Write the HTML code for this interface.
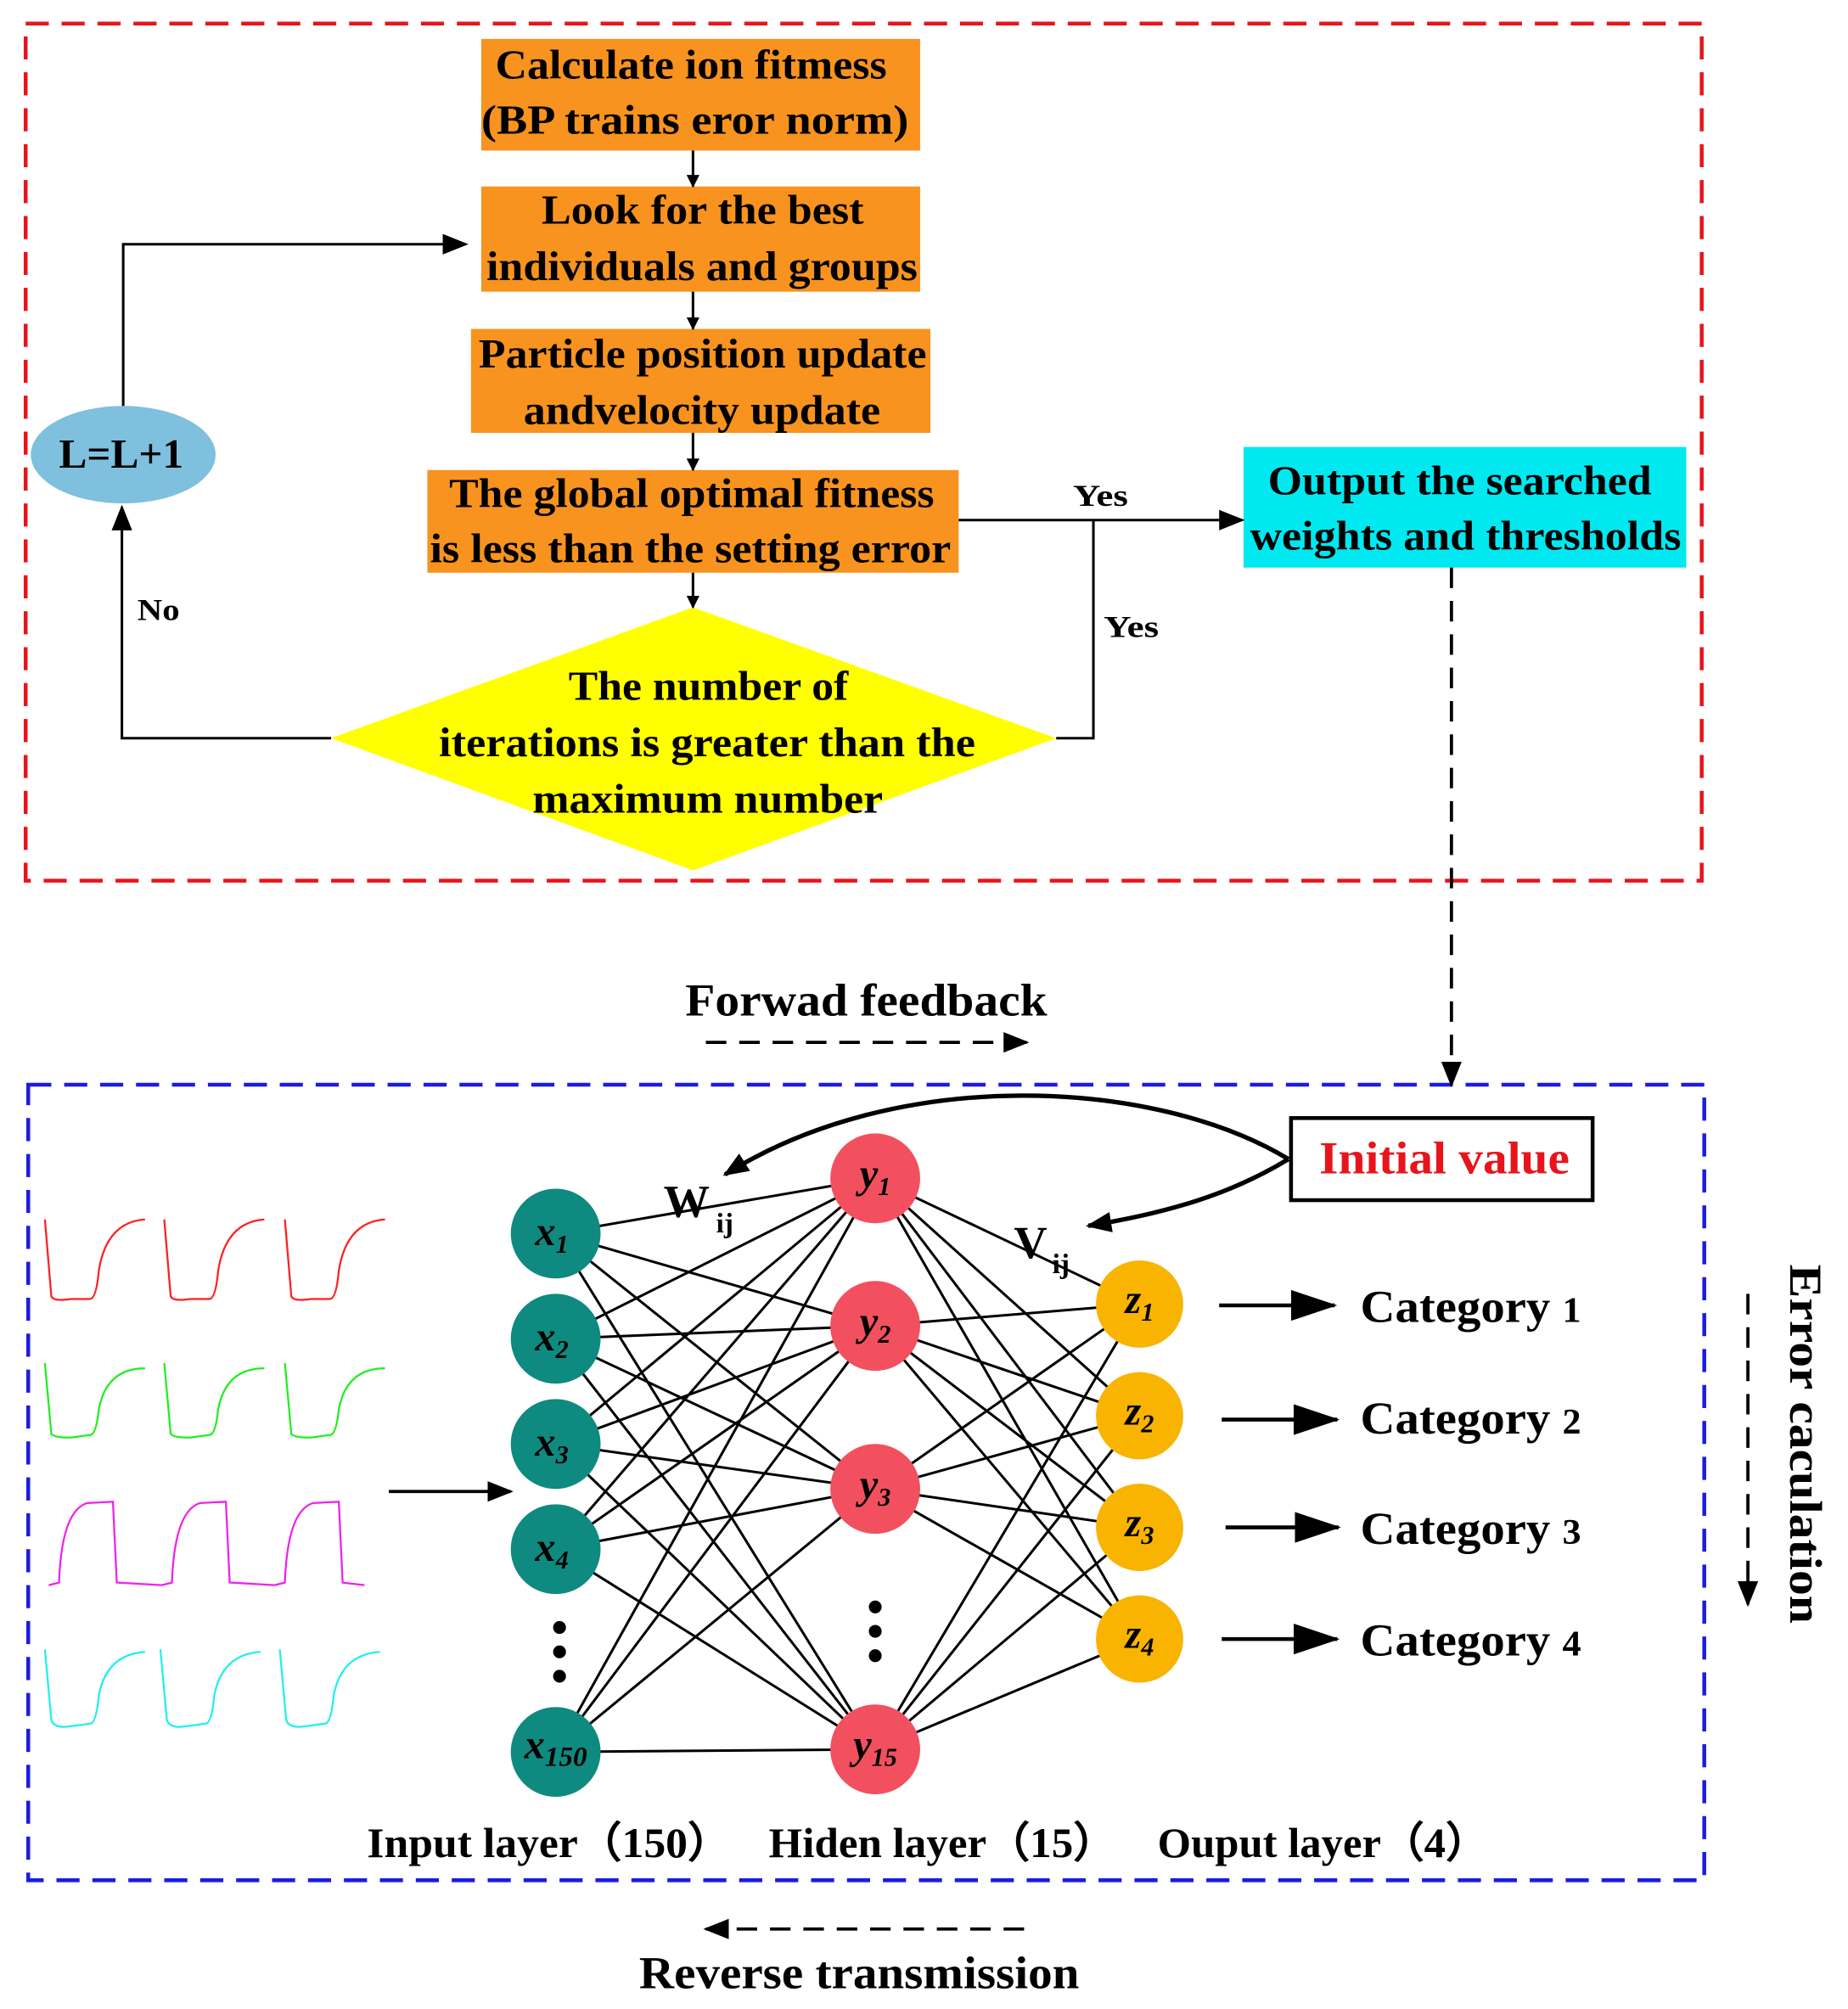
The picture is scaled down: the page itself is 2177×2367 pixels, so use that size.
<!DOCTYPE html>
<html><head><meta charset="utf-8"><style>
html,body{margin:0;padding:0;background:#fff;}
svg{display:block;}
text{font-family:"Liberation Serif",serif;font-weight:bold;}
</style></head><body>
<svg width="2177" height="2367" viewBox="0 0 1440 1565" xmlns="http://www.w3.org/2000/svg">
<defs>
<marker id="a" markerWidth="10" markerHeight="10" refX="9" refY="5" orient="auto" markerUnits="userSpaceOnUse"><path d="M0,0 L10,5 L0,10 z" fill="#000"/></marker>
<marker id="b" markerWidth="20" markerHeight="16" refX="18" refY="8" orient="auto" markerUnits="userSpaceOnUse"><path d="M0,0 L20,8 L0,16 z" fill="#000"/></marker>
<marker id="c" markerWidth="36" markerHeight="24" refX="34" refY="12" orient="auto" markerUnits="userSpaceOnUse"><path d="M0,0 L36,12 L0,24 z" fill="#000"/></marker>
</defs>
<rect width="1440" height="1565" fill="#fff"/>
<rect x="20" y="18" width="1306" height="668" fill="none" stroke="#e8141c" stroke-width="3" stroke-dasharray="18,10"/>
<rect x="22" y="845" width="1306" height="620" fill="none" stroke="#1c1ce0" stroke-width="3" stroke-dasharray="18,10"/>

<g fill="#f7931e">
<rect x="375" y="30" width="342" height="87"/>
<rect x="375" y="145" width="342" height="82"/>
<rect x="367" y="256" width="358" height="81"/>
<rect x="333" y="366" width="414" height="80"/>
</g>
<polygon points="540,473 823,575 540,678 258,575" fill="#ffff00"/>
<ellipse cx="96" cy="354" rx="72" ry="38" fill="#7ec0de"/>
<rect x="969" y="348" width="345" height="94" fill="#00e8f0"/>

<g font-size="32" fill="#000" lengthAdjust="spacingAndGlyphs">
<text x="386" y="61" textLength="305" lengthAdjust="spacingAndGlyphs">Calculate ion fitmess</text>
<text x="375" y="104" textLength="333" lengthAdjust="spacingAndGlyphs">(BP trains eror norm)</text>
<text x="422" y="174" textLength="251" lengthAdjust="spacingAndGlyphs">Look for the best</text>
<text x="379" y="218" textLength="336" lengthAdjust="spacingAndGlyphs">individuals and groups</text>
<text x="373" y="286" textLength="349" lengthAdjust="spacingAndGlyphs">Particle position update</text>
<text x="408" y="330" textLength="278" lengthAdjust="spacingAndGlyphs">andvelocity update</text>
<text x="350" y="395" textLength="378" lengthAdjust="spacingAndGlyphs">The global optimal fitness</text>
<text x="335" y="438" textLength="406" lengthAdjust="spacingAndGlyphs">is less than the setting error</text>
<text x="443" y="545" textLength="218" lengthAdjust="spacingAndGlyphs">The number of</text>
<text x="342" y="589" textLength="418" lengthAdjust="spacingAndGlyphs">iterations is greater than the</text>
<text x="415" y="633" textLength="273" lengthAdjust="spacingAndGlyphs">maximum number</text>
<text x="46" y="364" textLength="97" lengthAdjust="spacingAndGlyphs">L=L+1</text>
<text x="988" y="385" textLength="299" lengthAdjust="spacingAndGlyphs">Output the searched</text>
<text x="974" y="428" textLength="336" lengthAdjust="spacingAndGlyphs">weights and thresholds</text>
</g>
<g font-size="24" fill="#000">
<text x="107" y="483" textLength="33" lengthAdjust="spacingAndGlyphs">No</text>
<text x="836" y="394" textLength="43" lengthAdjust="spacingAndGlyphs">Yes</text>
<text x="860" y="496" textLength="43" lengthAdjust="spacingAndGlyphs">Yes</text>
</g>

<g stroke="#000" stroke-width="2" fill="none">
<line x1="540" y1="117" x2="540" y2="145" marker-end="url(#a)"/>
<line x1="540" y1="227" x2="540" y2="256" marker-end="url(#a)"/>
<line x1="540" y1="337" x2="540" y2="366" marker-end="url(#a)"/>
<line x1="540" y1="446" x2="540" y2="473" marker-end="url(#a)"/>
<polyline points="96,316 96,190 363,190" marker-end="url(#b)"/>
<polyline points="258,575 95,575 95,395" marker-end="url(#b)"/>
<line x1="747" y1="405" x2="968" y2="405" marker-end="url(#b)"/>
<polyline points="823,575 852,575 852,405"/>
<line x1="1131" y1="442" x2="1131" y2="845" stroke-width="2.5" stroke-dasharray="16,10" marker-end="url(#b)"/>
<line x1="550" y1="812" x2="800" y2="812" stroke-width="2.5" stroke-dasharray="16,10" marker-end="url(#b)"/>
<line x1="798" y1="1503" x2="550" y2="1503" stroke-width="2.5" stroke-dasharray="16,10" marker-end="url(#b)"/>
<line x1="1362" y1="1008" x2="1362" y2="1250" stroke-width="2.5" stroke-dasharray="16,10" marker-end="url(#b)"/>
<line x1="303" y1="1162" x2="398" y2="1162" stroke-width="2.5" marker-end="url(#b)"/>
<line x1="950" y1="1017" x2="1040" y2="1017" stroke-width="3" marker-end="url(#c)"/>
<line x1="952" y1="1106" x2="1042" y2="1106" stroke-width="3" marker-end="url(#c)"/>
<line x1="955" y1="1190" x2="1043" y2="1190" stroke-width="3" marker-end="url(#c)"/>
<line x1="952" y1="1277" x2="1042" y2="1277" stroke-width="3" marker-end="url(#c)"/>
<path d="M1004,903 C900,840 700,830 565,915" stroke-width="3.5" marker-end="url(#b)"/>
<path d="M1004,903 C960,930 910,945 848,955" stroke-width="3.5" marker-end="url(#b)"/>
</g>

<rect x="1006" y="871" width="235" height="64" fill="#fff" stroke="#000" stroke-width="3"/>
<text x="1028" y="914" font-size="36" fill="#e8141c" textLength="195" lengthAdjust="spacingAndGlyphs">Initial value</text>
<text x="534" y="791" font-size="36" textLength="282" lengthAdjust="spacingAndGlyphs">Forwad feedback</text>
<text x="498" y="1549" font-size="36" textLength="343" lengthAdjust="spacingAndGlyphs">Reverse transmission</text>
<text transform="translate(1395,985) rotate(90)" font-size="36" textLength="280" lengthAdjust="spacingAndGlyphs">Error  caculation</text>

<g font-size="36" fill="#000">
<text x="517" y="948">W</text><text x="558" y="960" font-size="22">ij</text>
<text x="790" y="980">V</text><text x="820" y="992" font-size="22">ij</text>
</g>

<g font-size="36" fill="#000">
<text x="1060" y="1030" textLength="172" lengthAdjust="spacingAndGlyphs">Category <tspan font-size="28">1</tspan></text>
<text x="1060" y="1117" textLength="172" lengthAdjust="spacingAndGlyphs">Category <tspan font-size="28">2</tspan></text>
<text x="1060" y="1203" textLength="172" lengthAdjust="spacingAndGlyphs">Category <tspan font-size="28">3</tspan></text>
<text x="1060" y="1290" textLength="172" lengthAdjust="spacingAndGlyphs">Category <tspan font-size="28">4</tspan></text>
<text x="286" y="1447" font-size="33" textLength="284" lengthAdjust="spacingAndGlyphs">Input layer（150）</text>
<text x="599" y="1447" font-size="33" textLength="271" lengthAdjust="spacingAndGlyphs">Hiden layer（15）</text>
<text x="902" y="1447" font-size="33" textLength="258" lengthAdjust="spacingAndGlyphs">Ouput layer（4）</text>
</g>

<g fill="none" stroke-width="1.5">
<path d="M0,0 L5,60 Q7,64 20,62 L35,62 Q40,62 42,40 Q48,2 78,0" transform="translate(35,950)" stroke="#ff2020"/>
<path d="M0,0 L5,60 Q7,64 20,62 L35,62 Q40,62 42,40 Q48,2 78,0" transform="translate(128,950)" stroke="#ff2020"/>
<path d="M0,0 L5,60 Q7,64 20,62 L35,62 Q40,62 42,40 Q48,2 78,0" transform="translate(222,950)" stroke="#ff2020"/>
<path d="M0,0 L5,55 Q7,58 20,58 L35,56 Q40,56 42,36 Q48,4 78,4" transform="translate(35,1062)" stroke="#22ee22"/>
<path d="M0,0 L5,55 Q7,58 20,58 L35,56 Q40,56 42,36 Q48,4 78,4" transform="translate(128,1062)" stroke="#22ee22"/>
<path d="M0,0 L5,55 Q7,58 20,58 L35,56 Q40,56 42,36 Q48,4 78,4" transform="translate(222,1062)" stroke="#22ee22"/>
<path d="M0,70 L8,68 Q10,12 30,6 L50,5 L53,68 L88,70" transform="translate(38,1165)" stroke="#ee22ee"/>
<path d="M0,70 L8,68 Q10,12 30,6 L50,5 L53,68 L88,70" transform="translate(126,1165)" stroke="#ee22ee"/>
<path d="M0,70 L8,68 Q10,12 30,6 L50,5 L53,68 L70,70" transform="translate(214,1165)" stroke="#ee22ee"/>
<path d="M0,0 L5,55 Q7,62 20,60 L35,58 Q40,58 42,36 Q48,4 78,2" transform="translate(35,1285)" stroke="#22eeee"/>
<path d="M0,0 L5,55 Q7,62 20,60 L35,58 Q40,58 42,36 Q48,4 78,2" transform="translate(125,1285)" stroke="#22eeee"/>
<path d="M0,0 L5,55 Q7,62 20,60 L35,58 Q40,58 42,36 Q48,4 78,2" transform="translate(218,1285)" stroke="#22eeee"/>
</g>

<g stroke="#000" stroke-width="2">
<line x1="433" y1="961" x2="682" y2="918"/><line x1="433" y1="961" x2="682" y2="1033"/><line x1="433" y1="961" x2="682" y2="1160"/><line x1="433" y1="961" x2="682" y2="1363"/>
<line x1="433" y1="1043" x2="682" y2="918"/><line x1="433" y1="1043" x2="682" y2="1033"/><line x1="433" y1="1043" x2="682" y2="1160"/><line x1="433" y1="1043" x2="682" y2="1363"/>
<line x1="433" y1="1125" x2="682" y2="918"/><line x1="433" y1="1125" x2="682" y2="1033"/><line x1="433" y1="1125" x2="682" y2="1160"/><line x1="433" y1="1125" x2="682" y2="1363"/>
<line x1="433" y1="1207" x2="682" y2="918"/><line x1="433" y1="1207" x2="682" y2="1033"/><line x1="433" y1="1207" x2="682" y2="1160"/><line x1="433" y1="1207" x2="682" y2="1363"/>
<line x1="433" y1="1365" x2="682" y2="918"/><line x1="433" y1="1365" x2="682" y2="1033"/><line x1="433" y1="1365" x2="682" y2="1160"/><line x1="433" y1="1365" x2="682" y2="1363"/>
<line x1="682" y1="918" x2="888" y2="1016"/><line x1="682" y1="918" x2="888" y2="1103"/><line x1="682" y1="918" x2="888" y2="1190"/><line x1="682" y1="918" x2="888" y2="1277"/>
<line x1="682" y1="1033" x2="888" y2="1016"/><line x1="682" y1="1033" x2="888" y2="1103"/><line x1="682" y1="1033" x2="888" y2="1190"/><line x1="682" y1="1033" x2="888" y2="1277"/>
<line x1="682" y1="1160" x2="888" y2="1016"/><line x1="682" y1="1160" x2="888" y2="1103"/><line x1="682" y1="1160" x2="888" y2="1190"/><line x1="682" y1="1160" x2="888" y2="1277"/>
<line x1="682" y1="1363" x2="888" y2="1016"/><line x1="682" y1="1363" x2="888" y2="1103"/><line x1="682" y1="1363" x2="888" y2="1190"/><line x1="682" y1="1363" x2="888" y2="1277"/>
</g>

<g fill="#0e8a80">
<circle cx="433" cy="961" r="35"/><circle cx="433" cy="1043" r="35"/><circle cx="433" cy="1125" r="35"/><circle cx="433" cy="1207" r="35"/><circle cx="433" cy="1365" r="35"/>
</g>
<g fill="#f2505f">
<circle cx="682" cy="918" r="35"/><circle cx="682" cy="1033" r="35"/><circle cx="682" cy="1160" r="35"/><circle cx="682" cy="1363" r="35"/>
</g>
<g fill="#f8b400">
<circle cx="888" cy="1016" r="34"/><circle cx="888" cy="1103" r="34"/><circle cx="888" cy="1190" r="34"/><circle cx="888" cy="1277" r="34"/>
</g>
<g fill="#000">
<circle cx="436" cy="1268" r="5"/><circle cx="436" cy="1287" r="5"/><circle cx="436" cy="1306" r="5"/>
<circle cx="682" cy="1252" r="5"/><circle cx="682" cy="1271" r="5"/><circle cx="682" cy="1290" r="5"/>
</g>
<g font-size="32" font-style="italic" fill="#000" text-anchor="middle">
<text x="430" y="970">x<tspan font-size="20" dy="6">1</tspan></text>
<text x="430" y="1052">x<tspan font-size="20" dy="6">2</tspan></text>
<text x="430" y="1134">x<tspan font-size="20" dy="6">3</tspan></text>
<text x="430" y="1216">x<tspan font-size="20" dy="6">4</tspan></text>
<text x="433" y="1370">x<tspan font-size="22" dy="6">150</tspan></text>
<text x="682" y="925">y<tspan font-size="20" dy="6">1</tspan></text>
<text x="682" y="1040">y<tspan font-size="20" dy="6">2</tspan></text>
<text x="682" y="1167">y<tspan font-size="20" dy="6">3</tspan></text>
<text x="682" y="1370">y<tspan font-size="20" dy="6">15</tspan></text>
<text x="888" y="1023">z<tspan font-size="20" dy="6">1</tspan></text>
<text x="888" y="1110">z<tspan font-size="20" dy="6">2</tspan></text>
<text x="888" y="1197">z<tspan font-size="20" dy="6">3</tspan></text>
<text x="888" y="1284">z<tspan font-size="20" dy="6">4</tspan></text>
</g>
</svg>
</body></html>
